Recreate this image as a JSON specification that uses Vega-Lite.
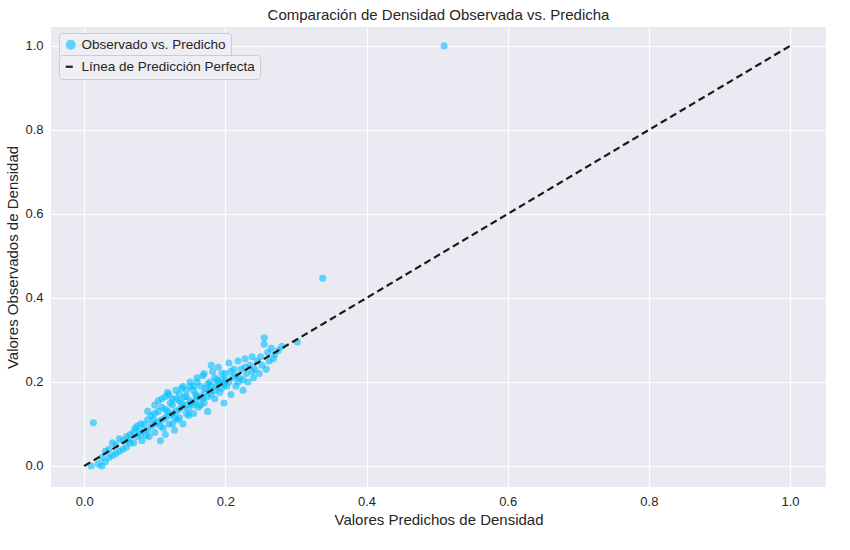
{
  "$schema": "https://vega.github.io/schema/vega-lite/v6.json",
  "width": 775, "height": 460,
  "background": "white",
  "padding": {"left": 5, "top": 8, "right": 5, "bottom": 5},
  "config": {
    "font": "Liberation Sans",
    "view": {"fill": "#EAEAF2", "stroke": null},
    "axis": {"gridColor": "white", "gridWidth": 1.2, "domain": false, "ticks": false, "labelFontSize": 13, "titleFontSize": 15, "titleFontWeight": "normal", "labelColor": "#262626", "titleColor": "#262626", "labelPadding": 8},
    "title": {"fontSize": 15, "fontWeight": "normal", "color": "#262626"},
    "legend": {"labelFontSize": 13.5, "labelColor": "#262626", "labelLimit": 300, "fillColor": "#EEEEF4", "strokeColor": "#cccccc", "padding": 5, "cornerRadius": 3}
  },
  "title": "Comparación de Densidad Observada vs. Predicha",
  "layer": [
    {
      "data": {"values": [
        {"p":0.013,"o":0.103},{"p":0.51,"o":1.0},{"p":0.338,"o":0.447},{"p":0.302,"o":0.295},
        {"p":0.01,"o":0.0},{"p":0.02,"o":0.005},{"p":0.025,"o":0.02},{"p":0.03,"o":0.01},{"p":0.035,"o":0.04},{"p":0.04,"o":0.025},
        {"p":0.045,"o":0.05},{"p":0.05,"o":0.035},{"p":0.055,"o":0.06},{"p":0.06,"o":0.045},{"p":0.065,"o":0.075},{"p":0.07,"o":0.055},
        {"p":0.072,"o":0.09},{"p":0.075,"o":0.07},{"p":0.08,"o":0.1},{"p":0.082,"o":0.06},{"p":0.085,"o":0.085},{"p":0.09,"o":0.11},
        {"p":0.092,"o":0.07},{"p":0.095,"o":0.095},{"p":0.1,"o":0.125},{"p":0.1,"o":0.08},{"p":0.105,"o":0.105},{"p":0.108,"o":0.06},
        {"p":0.11,"o":0.14},{"p":0.112,"o":0.09},{"p":0.115,"o":0.115},{"p":0.118,"o":0.175},{"p":0.12,"o":0.1},{"p":0.122,"o":0.15},
        {"p":0.125,"o":0.125},{"p":0.128,"o":0.085},{"p":0.13,"o":0.16},{"p":0.132,"o":0.11},{"p":0.135,"o":0.135},{"p":0.138,"o":0.185},
        {"p":0.14,"o":0.1},{"p":0.142,"o":0.165},{"p":0.145,"o":0.145},{"p":0.148,"o":0.12},{"p":0.15,"o":0.19},{"p":0.152,"o":0.15},
        {"p":0.155,"o":0.125},{"p":0.158,"o":0.17},{"p":0.16,"o":0.2},{"p":0.162,"o":0.14},{"p":0.165,"o":0.165},{"p":0.168,"o":0.215},
        {"p":0.17,"o":0.15},{"p":0.172,"o":0.185},{"p":0.175,"o":0.13},{"p":0.178,"o":0.2},{"p":0.18,"o":0.17},{"p":0.182,"o":0.225},
        {"p":0.185,"o":0.16},{"p":0.188,"o":0.19},{"p":0.19,"o":0.235},{"p":0.192,"o":0.175},{"p":0.195,"o":0.205},{"p":0.198,"o":0.15},
        {"p":0.2,"o":0.22},{"p":0.202,"o":0.19},{"p":0.205,"o":0.245},{"p":0.208,"o":0.17},{"p":0.21,"o":0.21},{"p":0.212,"o":0.23},
        {"p":0.215,"o":0.19},{"p":0.218,"o":0.25},{"p":0.22,"o":0.21},{"p":0.222,"o":0.23},{"p":0.225,"o":0.18},{"p":0.228,"o":0.255},
        {"p":0.23,"o":0.22},{"p":0.232,"o":0.2},{"p":0.235,"o":0.24},{"p":0.238,"o":0.26},{"p":0.24,"o":0.21},{"p":0.242,"o":0.23},
        {"p":0.245,"o":0.25},{"p":0.248,"o":0.22},{"p":0.25,"o":0.26},{"p":0.252,"o":0.24},{"p":0.255,"o":0.305},{"p":0.258,"o":0.23},
        {"p":0.26,"o":0.27},{"p":0.262,"o":0.25},{"p":0.265,"o":0.28},{"p":0.268,"o":0.255},{"p":0.27,"o":0.265},{"p":0.275,"o":0.275},
        {"p":0.055,"o":0.04},{"p":0.06,"o":0.07},{"p":0.065,"o":0.055},{"p":0.07,"o":0.08},{"p":0.075,"o":0.095},{"p":0.08,"o":0.075},
        {"p":0.085,"o":0.1},{"p":0.09,"o":0.085},{"p":0.095,"o":0.12},{"p":0.1,"o":0.1},{"p":0.105,"o":0.13},{"p":0.11,"o":0.11},
        {"p":0.115,"o":0.135},{"p":0.12,"o":0.12},{"p":0.125,"o":0.145},{"p":0.13,"o":0.13},{"p":0.135,"o":0.155},{"p":0.14,"o":0.14},
        {"p":0.145,"o":0.165},{"p":0.15,"o":0.155},{"p":0.155,"o":0.18},{"p":0.16,"o":0.165},{"p":0.165,"o":0.19},{"p":0.17,"o":0.175},
        {"p":0.175,"o":0.195},{"p":0.18,"o":0.19},{"p":0.185,"o":0.21},{"p":0.19,"o":0.2},{"p":0.195,"o":0.22},{"p":0.2,"o":0.205},
        {"p":0.04,"o":0.055},{"p":0.045,"o":0.03},{"p":0.05,"o":0.065},{"p":0.03,"o":0.035},{"p":0.025,"o":0.0},{"p":0.035,"o":0.02},
        {"p":0.115,"o":0.075},{"p":0.125,"o":0.1},{"p":0.135,"o":0.115},{"p":0.145,"o":0.125},{"p":0.155,"o":0.145},{"p":0.165,"o":0.145},
        {"p":0.175,"o":0.165},{"p":0.185,"o":0.18},{"p":0.195,"o":0.185},{"p":0.205,"o":0.2},{"p":0.215,"o":0.215},{"p":0.225,"o":0.205},
        {"p":0.09,"o":0.13},{"p":0.1,"o":0.145},{"p":0.11,"o":0.16},{"p":0.12,"o":0.17},{"p":0.13,"o":0.18},{"p":0.14,"o":0.19},
        {"p":0.15,"o":0.2},{"p":0.16,"o":0.21},{"p":0.17,"o":0.22},{"p":0.18,"o":0.24},{"p":0.255,"o":0.29},{"p":0.28,"o":0.285},
        {"p":0.062,"o":0.062},{"p":0.078,"o":0.082},{"p":0.088,"o":0.072},{"p":0.098,"o":0.11},{"p":0.108,"o":0.095},{"p":0.118,"o":0.13},
        {"p":0.128,"o":0.115},{"p":0.138,"o":0.15},{"p":0.148,"o":0.135},{"p":0.158,"o":0.155},{"p":0.168,"o":0.16},{"p":0.178,"o":0.18},
        {"p":0.188,"o":0.205},{"p":0.198,"o":0.195},{"p":0.208,"o":0.225},{"p":0.218,"o":0.2},{"p":0.228,"o":0.235},{"p":0.238,"o":0.225},
        {"p":0.105,"o":0.155},{"p":0.115,"o":0.165},{"p":0.125,"o":0.16},{"p":0.135,"o":0.17},{"p":0.145,"o":0.18},{"p":0.155,"o":0.19}
      ]},
      "transform": [{"calculate": "'Observado vs. Predicho'", "as": "s"}],
      "mark": {"type": "circle", "size": 50, "opacity": 0.6},
      "encoding": {
        "x": {"field": "p", "type": "quantitative", "title": "Valores Predichos de Densidad", "scale": {"domain": [-0.047, 1.051], "nice": false}, "axis": {"values": [0, 0.2, 0.4, 0.6, 0.8, 1.0], "format": ".1f"}},
        "y": {"field": "o", "type": "quantitative", "title": "Valores Observados de Densidad", "scale": {"domain": [-0.05, 1.045], "nice": false}, "axis": {"values": [0, 0.2, 0.4, 0.6, 0.8, 1.0], "format": ".1f"}},
        "color": {"field": "s", "type": "nominal", "scale": {"range": ["#00BFFF"]}, "legend": {"title": null, "orient": "none", "legendX": 8, "legendY": 6, "symbolType": "circle", "symbolOpacity": 0.6, "strokeColor": null, "fillColor": null}}
      }
    },
    {
      "data": {"values": [{"p": 0, "o": 0, "s": "Línea de Predicción Perfecta"}, {"p": 1, "o": 1, "s": "Línea de Predicción Perfecta"}]},
      "mark": {"type": "line", "color": "#1a1a1a", "strokeWidth": 2.2},
      "encoding": {
        "x": {"field": "p", "type": "quantitative"},
        "y": {"field": "o", "type": "quantitative"},
        "strokeDash": {"field": "s", "type": "nominal", "scale": {"range": [[7, 4]]}, "legend": {"title": null, "orient": "none", "legendX": 8, "legendY": 28, "symbolType": "stroke", "symbolStrokeColor": "#1a1a1a", "symbolStrokeWidth": 2.2, "strokeColor": null, "fillColor": null}}
      }
    }
  ],
  "resolve": {"scale": {"color": "independent", "strokeDash": "independent"}}
}
